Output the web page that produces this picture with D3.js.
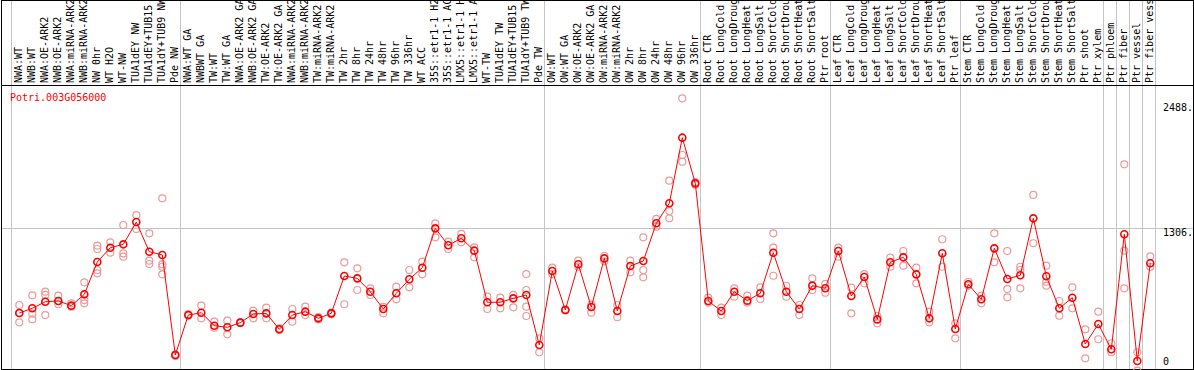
<!DOCTYPE html>
<html lang="en">
<head>
    <meta charset="UTF-8">
    <title>Potri.003G056000 expression</title>
    <script src="https://d3js.org/d3.v7.min.js"></script>
    <style>
        body { margin: 0; background: #fff; }
        svg { display: block; }
        text { font-family: "DejaVu Sans Mono", monospace; font-size: 10px; }
    </style>
</head>
<body>
    <svg id="chart" width="1194" height="370"></svg>
    <script>
        var geneName = "Potri.003G056000";

        var samples = [
            "NWA:WT", "NWB:WT", "NWA:OE-ARK2", "NWB:OE-ARK2", "NWA:miRNA-ARK2", "NWB:miRNA-ARK2",
            "NW 0hr", "WT H2O", "WT-NW", "TUA1dEY NW", "TUA1dEY+TUB15 NW", "TUA1dY+TUB9 NW", "Pde NW",
            "NWA:WT GA", "NWBWT GA", "TW:WT", "TW:WT GA", "NWA:OE-ARK2 GA", "NWB:OE-ARK2 GA",
            "TW:OE-ARK2", "TW:OE-ARK2 GA", "NWA:miRNA-ARK2", "NWB:miRNA-ARK2", "TW:miRNA-ARK2",
            "TW:miRNA-ARK2", "TW 2hr", "TW 8hr", "TW 24hr", "TW 48hr", "TW 96hr", "TW 336hr",
            "WT ACC", "35S::etr1-1 H2O", "35S::etr1-1 ACC", "LMX5::etr1-1 H2O", "LMX5::etr1-1 ACC",
            "WT-TW", "TUA1dEY TW", "TUA1dEY+TUB15 TW", "TUA1dY+TUB9 TW", "Pde TW",
            "OW:WT", "OW:WT GA", "OW:OE-ARK2", "OW:OE-ARK2 GA", "OW:miRNA-ARK2", "OW:miRNA-ARK2",
            "OW 2hr", "OW 8hr", "OW 24hr", "OW 48hr", "OW 96hr", "OW 336hr",
            "Root CTR", "Root LongCold", "Root LongDrought", "Root LongHeat", "Root LongSalt",
            "Root ShortCold", "Root ShortDrought", "Root ShortHeat", "Root ShortSalt", "Ptr root",
            "Leaf CTR", "Leaf LongCold", "Leaf LongDrought", "Leaf LongHeat", "Leaf LongSalt",
            "Leaf ShortCold", "Leaf ShortDrought", "Leaf ShortHeat", "Leaf ShortSalt", "Ptr leaf",
            "Stem CTR", "Stem LongCold", "Stem LongDrought", "Stem LongHeat", "Stem LongSalt",
            "Stem ShortCold", "Stem ShortDrought", "Stem ShortHeat", "Stem ShortSalt", "Ptr shoot",
            "Ptr xylem", "Ptr phloem", "Ptr fiber", "Ptr vessel", "Ptr fiber vessel"
        ];

        // first sample index of each group (gray separators)
        var groupStarts = [0, 13, 41, 53, 63, 73, 84, 85, 86, 87, 88];

        var means = [
            501, 546, 608, 615, 571, 678, 984, 1119, 1151, 1362, 1081, 1050, 104,
            482, 504, 381, 366, 410, 492, 498, 347, 482, 514, 451, 498, 851, 829, 703, 539,
            688, 820, 930, 1302, 1142, 1208, 1091, 603, 603, 640, 672, 199,
            899, 530, 962, 558, 1018, 520, 946, 993, 1350, 1539, 2160, 1728,
            615, 520, 703, 618, 688, 1072, 703, 539, 760, 735,
            1088, 662, 842, 441, 981, 1028, 867, 451, 1066, 350,
            773, 631, 1113, 823, 858, 1397, 849, 546, 646, 208,
            397, 158, 1246, 47, 972
        ];

        var replicates = [
            [577, 500, 413], [669, 495, 442], [703, 672, 482, 608], [665, 584, 615], [593, 561],
            [792, 624, 593], [1138, 1107, 908, 877], [1170, 1072], [1334, 1066, 1034], [1428, 1296],
            [1255, 996, 965], [1586, 962, 939, 867], [110, 95],
            [490, 475], [571, 451], [419, 362], [429, 300], [415, 405], [523, 451], [552, 451],
            [355, 340], [539, 419], [561, 482], [462, 440], [490, 505], [981, 584], [924, 719],
            [735, 672], [498, 560], [750, 631], [908, 744], [987, 867], [1350, 1217], [1176, 1107],
            [1249, 1170], [1123, 1028], [656, 539], [646, 546], [672, 555], [870, 719, 561, 473],
            [262, 130],
            [930, 870], [535, 525], [996, 940], [580, 504], [1043, 990], [577, 461], [996, 886],
            [1217, 908, 839], [1391, 1318], [1753, 1466, 1397], [2532, 1996, 1933], [1740, 1715],
            [646, 600], [552, 482], [735, 656], [665, 600], [744, 634],
            [1255, 1119, 854], [757, 656], [577, 482], [829, 719], [776, 694],
            [1119, 1034], [741, 498], [870, 782], [473, 404], [1025, 939], [1088, 949], [930, 782],
            [514, 413], [1199, 939], [404, 262],
            [797, 760], [665, 593], [1255, 981], [1088, 728, 650], [939, 908, 735], [1618, 1161],
            [949, 797, 760], [615, 476], [744, 546], [347, 73],
            [514, 253], [215, 130], [1908, 1091, 735], [130, -44], [1038, 939]
        ];

        var axisTicks = [2488, 1306, 0];

        var svg = d3.select("#chart");
        var plotTop = 85, plotBottom = 369, plotLeft = 1, plotRight = 1193;

        var x = d3.scaleBand()
            .domain(d3.range(samples.length + 1))
            .range([12.8, 12.8 + 13 * (samples.length + 1)])
            .padding(0);
        var cx = function(i) { return x(i) + x.bandwidth() / 2; };

        var y = d3.scaleLinear().domain([0, 2488]).range([366, 103]);

        // group separators
        svg.selectAll(".sep")
            .data(groupStarts)
          .enter().append("line")
            .attr("x1", function(d) { return Math.round(cx(d) - 8) + 0.5; })
            .attr("x2", function(d) { return Math.round(cx(d) - 8) + 0.5; })
            .attr("y1", 0)
            .attr("y2", plotBottom)
            .attr("stroke", "#c4c4c4");

        // gridline at middle tick
        svg.append("line")
            .attr("x1", plotLeft).attr("x2", plotRight)
            .attr("y1", Math.round(y(1306)) + 0.5).attr("y2", Math.round(y(1306)) + 0.5)
            .attr("stroke", "#c4c4c4");

        // frame
        svg.append("rect")
            .attr("x", plotLeft + 0.5).attr("y", 0.5)
            .attr("width", plotRight - plotLeft).attr("height", plotBottom)
            .attr("fill", "none").attr("stroke", "#000");
        svg.append("line")
            .attr("x1", plotLeft).attr("x2", plotRight + 1)
            .attr("y1", plotTop + 0.5).attr("y2", plotTop + 0.5)
            .attr("stroke", "#000");

        // sample labels (run off the top like the original)
        svg.selectAll(".label")
            .data(samples)
          .enter().append("text")
            .attr("class", "label")
            .attr("transform", function(d, i) { return "translate(" + (cx(i) + 3) + "," + (plotTop - 2) + ") rotate(-90)"; })
            .attr("fill", "#000")
            .text(function(d) { return d; });

        // right side values
        svg.selectAll(".tick")
            .data(axisTicks)
          .enter().append("text")
            .attr("x", 1163)
            .attr("y", function(d) { return d === 0 ? y(d) - 1 : y(d) + 8; })
            .attr("fill", "#000")
            .text(function(d) { return d === 0 ? "0" : d + "."; });

        svg.append("text")
            .attr("x", 10).attr("y", 101)
            .attr("fill", "#ff0000")
            .text(geneName);

        // replicate points
        var reps = [];
        replicates.forEach(function(r, i) { r.forEach(function(v) { reps.push({i: i, v: v}); }); });
        svg.selectAll(".rep")
            .data(reps)
          .enter().append("circle")
            .attr("cx", function(d) { return cx(d.i); })
            .attr("cy", function(d) { return y(d.v); })
            .attr("r", 3.5)
            .attr("fill", "none")
            .attr("stroke", "#ec9a9a")
            .attr("stroke-width", 1.2);

        // mean line
        var line = d3.line()
            .x(function(d, i) { return cx(i); })
            .y(function(d) { return y(d); });
        svg.append("path")
            .datum(means)
            .attr("d", line)
            .attr("fill", "none")
            .attr("stroke", "#ff0000")
            .attr("stroke-width", 1);

        svg.selectAll(".mean")
            .data(means)
          .enter().append("circle")
            .attr("cx", function(d, i) { return cx(i); })
            .attr("cy", function(d) { return y(d); })
            .attr("r", 3.5)
            .attr("fill", "none")
            .attr("stroke", "#ff0000")
            .attr("stroke-width", 1.6);
    </script>
</body>
</html>
